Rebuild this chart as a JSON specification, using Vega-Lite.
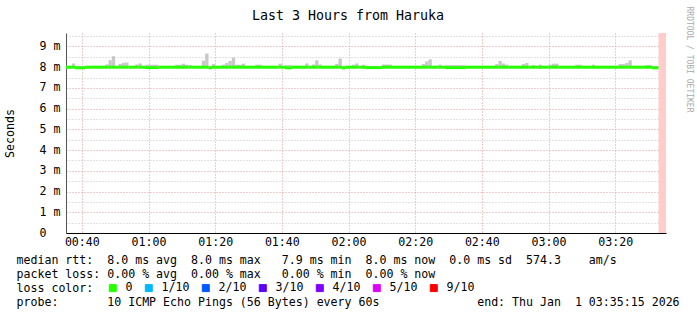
{
  "$schema": "https://vega.github.io/schema/vega-lite/v6.json",
  "width": 600,
  "height": 200,
  "autosize": {"type": "none"},
  "padding": {"left": 66, "top": 33, "right": 31, "bottom": 82},
  "background": "white",
  "title": {"text": "Last 3 Hours from Haruka", "font": "DejaVu Sans Mono", "fontSize": 13.3, "fontWeight": "normal", "color": "#000000", "anchor": "middle", "frame": "group", "baseline": "alphabetic", "offset": -27.6, "dx": -18},
  "datasets": {
    "unknown": [{"start": "2026-01-01T03:33:00Z", "end": "2026-01-01T03:35:15Z"}],
    "smoke": [
      {"start": "2026-01-01T00:35:15Z", "end": "2026-01-01T00:37:00Z", "lo": 7.95, "hi": 8.06, "med": 8.0, "loss": "0"},
      {"start": "2026-01-01T00:37:00Z", "end": "2026-01-01T00:38:00Z", "lo": 7.95, "hi": 8.18, "med": 8.0, "loss": "0"},
      {"start": "2026-01-01T00:38:00Z", "end": "2026-01-01T00:41:00Z", "lo": 7.92, "hi": 8.06, "med": 7.97, "loss": "0"},
      {"start": "2026-01-01T00:41:00Z", "end": "2026-01-01T00:47:00Z", "lo": 7.95, "hi": 8.06, "med": 8.0, "loss": "0"},
      {"start": "2026-01-01T00:47:00Z", "end": "2026-01-01T00:48:00Z", "lo": 7.95, "hi": 8.13, "med": 8.0, "loss": "0"},
      {"start": "2026-01-01T00:48:00Z", "end": "2026-01-01T00:49:00Z", "lo": 7.95, "hi": 8.34, "med": 8.0, "loss": "0"},
      {"start": "2026-01-01T00:49:00Z", "end": "2026-01-01T00:50:00Z", "lo": 7.95, "hi": 8.53, "med": 8.0, "loss": "0"},
      {"start": "2026-01-01T00:50:00Z", "end": "2026-01-01T00:51:00Z", "lo": 7.95, "hi": 8.06, "med": 8.0, "loss": "0"},
      {"start": "2026-01-01T00:51:00Z", "end": "2026-01-01T00:52:00Z", "lo": 7.95, "hi": 8.16, "med": 8.0, "loss": "0"},
      {"start": "2026-01-01T00:52:00Z", "end": "2026-01-01T00:53:00Z", "lo": 7.95, "hi": 8.21, "med": 8.0, "loss": "0"},
      {"start": "2026-01-01T00:53:00Z", "end": "2026-01-01T00:54:00Z", "lo": 7.95, "hi": 8.23, "med": 8.0, "loss": "0"},
      {"start": "2026-01-01T00:54:00Z", "end": "2026-01-01T00:56:00Z", "lo": 7.95, "hi": 8.06, "med": 8.0, "loss": "0"},
      {"start": "2026-01-01T00:56:00Z", "end": "2026-01-01T00:57:00Z", "lo": 7.95, "hi": 8.13, "med": 8.0, "loss": "0"},
      {"start": "2026-01-01T00:57:00Z", "end": "2026-01-01T00:58:00Z", "lo": 7.95, "hi": 8.18, "med": 8.0, "loss": "0"},
      {"start": "2026-01-01T00:58:00Z", "end": "2026-01-01T00:59:00Z", "lo": 7.95, "hi": 8.06, "med": 8.0, "loss": "0"},
      {"start": "2026-01-01T00:59:00Z", "end": "2026-01-01T01:03:00Z", "lo": 7.93, "hi": 8.12, "med": 7.98, "loss": "0"},
      {"start": "2026-01-01T01:03:00Z", "end": "2026-01-01T01:08:00Z", "lo": 7.95, "hi": 8.06, "med": 8.0, "loss": "0"},
      {"start": "2026-01-01T01:08:00Z", "end": "2026-01-01T01:10:00Z", "lo": 7.95, "hi": 8.12, "med": 8.0, "loss": "0"},
      {"start": "2026-01-01T01:10:00Z", "end": "2026-01-01T01:11:00Z", "lo": 7.93, "hi": 8.17, "med": 8.0, "loss": "0"},
      {"start": "2026-01-01T01:11:00Z", "end": "2026-01-01T01:12:00Z", "lo": 7.95, "hi": 8.12, "med": 8.0, "loss": "0"},
      {"start": "2026-01-01T01:12:00Z", "end": "2026-01-01T01:13:00Z", "lo": 7.95, "hi": 8.1, "med": 8.0, "loss": "0"},
      {"start": "2026-01-01T01:13:00Z", "end": "2026-01-01T01:16:00Z", "lo": 7.95, "hi": 8.06, "med": 8.0, "loss": "0"},
      {"start": "2026-01-01T01:16:00Z", "end": "2026-01-01T01:17:00Z", "lo": 7.95, "hi": 8.32, "med": 8.0, "loss": "0"},
      {"start": "2026-01-01T01:17:00Z", "end": "2026-01-01T01:18:00Z", "lo": 7.95, "hi": 8.66, "med": 8.0, "loss": "0"},
      {"start": "2026-01-01T01:18:00Z", "end": "2026-01-01T01:19:00Z", "lo": 7.92, "hi": 8.06, "med": 7.97, "loss": "0"},
      {"start": "2026-01-01T01:19:00Z", "end": "2026-01-01T01:20:00Z", "lo": 7.95, "hi": 8.15, "med": 8.0, "loss": "0"},
      {"start": "2026-01-01T01:20:00Z", "end": "2026-01-01T01:22:00Z", "lo": 7.95, "hi": 8.06, "med": 8.0, "loss": "0"},
      {"start": "2026-01-01T01:22:00Z", "end": "2026-01-01T01:23:00Z", "lo": 7.95, "hi": 8.12, "med": 8.0, "loss": "0"},
      {"start": "2026-01-01T01:23:00Z", "end": "2026-01-01T01:24:00Z", "lo": 7.93, "hi": 8.2, "med": 8.0, "loss": "0"},
      {"start": "2026-01-01T01:24:00Z", "end": "2026-01-01T01:25:00Z", "lo": 7.95, "hi": 8.3, "med": 8.0, "loss": "0"},
      {"start": "2026-01-01T01:25:00Z", "end": "2026-01-01T01:26:00Z", "lo": 7.95, "hi": 8.46, "med": 8.0, "loss": "0"},
      {"start": "2026-01-01T01:26:00Z", "end": "2026-01-01T01:28:00Z", "lo": 7.95, "hi": 8.12, "med": 8.0, "loss": "0"},
      {"start": "2026-01-01T01:28:00Z", "end": "2026-01-01T01:29:00Z", "lo": 7.95, "hi": 8.17, "med": 8.0, "loss": "0"},
      {"start": "2026-01-01T01:29:00Z", "end": "2026-01-01T01:32:00Z", "lo": 7.95, "hi": 8.06, "med": 8.0, "loss": "0"},
      {"start": "2026-01-01T01:32:00Z", "end": "2026-01-01T01:34:00Z", "lo": 7.95, "hi": 8.12, "med": 8.0, "loss": "0"},
      {"start": "2026-01-01T01:34:00Z", "end": "2026-01-01T01:39:00Z", "lo": 7.95, "hi": 8.06, "med": 8.0, "loss": "0"},
      {"start": "2026-01-01T01:39:00Z", "end": "2026-01-01T01:40:00Z", "lo": 7.95, "hi": 8.17, "med": 8.0, "loss": "0"},
      {"start": "2026-01-01T01:40:00Z", "end": "2026-01-01T01:41:00Z", "lo": 7.95, "hi": 8.06, "med": 8.0, "loss": "0"},
      {"start": "2026-01-01T01:41:00Z", "end": "2026-01-01T01:43:00Z", "lo": 7.92, "hi": 8.1, "med": 7.97, "loss": "0"},
      {"start": "2026-01-01T01:43:00Z", "end": "2026-01-01T01:47:00Z", "lo": 7.95, "hi": 8.06, "med": 8.0, "loss": "0"},
      {"start": "2026-01-01T01:47:00Z", "end": "2026-01-01T01:48:00Z", "lo": 7.95, "hi": 8.18, "med": 8.0, "loss": "0"},
      {"start": "2026-01-01T01:48:00Z", "end": "2026-01-01T01:49:00Z", "lo": 7.95, "hi": 8.06, "med": 8.0, "loss": "0"},
      {"start": "2026-01-01T01:49:00Z", "end": "2026-01-01T01:50:00Z", "lo": 7.95, "hi": 8.13, "med": 8.0, "loss": "0"},
      {"start": "2026-01-01T01:50:00Z", "end": "2026-01-01T01:51:00Z", "lo": 7.95, "hi": 8.33, "med": 8.0, "loss": "0"},
      {"start": "2026-01-01T01:51:00Z", "end": "2026-01-01T01:52:00Z", "lo": 7.95, "hi": 8.13, "med": 8.0, "loss": "0"},
      {"start": "2026-01-01T01:52:00Z", "end": "2026-01-01T01:56:00Z", "lo": 7.95, "hi": 8.06, "med": 8.0, "loss": "0"},
      {"start": "2026-01-01T01:56:00Z", "end": "2026-01-01T01:57:00Z", "lo": 7.95, "hi": 8.16, "med": 8.0, "loss": "0"},
      {"start": "2026-01-01T01:57:00Z", "end": "2026-01-01T01:58:00Z", "lo": 7.95, "hi": 8.42, "med": 8.0, "loss": "0"},
      {"start": "2026-01-01T01:58:00Z", "end": "2026-01-01T01:59:00Z", "lo": 7.9, "hi": 8.06, "med": 7.97, "loss": "0"},
      {"start": "2026-01-01T01:59:00Z", "end": "2026-01-01T02:01:00Z", "lo": 7.95, "hi": 8.06, "med": 8.0, "loss": "0"},
      {"start": "2026-01-01T02:01:00Z", "end": "2026-01-01T02:02:00Z", "lo": 7.95, "hi": 8.12, "med": 8.0, "loss": "0"},
      {"start": "2026-01-01T02:02:00Z", "end": "2026-01-01T02:03:00Z", "lo": 7.95, "hi": 8.18, "med": 8.0, "loss": "0"},
      {"start": "2026-01-01T02:03:00Z", "end": "2026-01-01T02:04:00Z", "lo": 7.95, "hi": 8.06, "med": 8.0, "loss": "0"},
      {"start": "2026-01-01T02:04:00Z", "end": "2026-01-01T02:05:00Z", "lo": 7.95, "hi": 8.12, "med": 8.0, "loss": "0"},
      {"start": "2026-01-01T02:05:00Z", "end": "2026-01-01T02:10:00Z", "lo": 7.93, "hi": 8.06, "med": 7.98, "loss": "0"},
      {"start": "2026-01-01T02:10:00Z", "end": "2026-01-01T02:13:00Z", "lo": 7.95, "hi": 8.13, "med": 8.0, "loss": "0"},
      {"start": "2026-01-01T02:13:00Z", "end": "2026-01-01T02:22:00Z", "lo": 7.95, "hi": 8.06, "med": 8.0, "loss": "0"},
      {"start": "2026-01-01T02:22:00Z", "end": "2026-01-01T02:23:00Z", "lo": 7.95, "hi": 8.15, "med": 8.0, "loss": "0"},
      {"start": "2026-01-01T02:23:00Z", "end": "2026-01-01T02:24:00Z", "lo": 7.95, "hi": 8.28, "med": 8.0, "loss": "0"},
      {"start": "2026-01-01T02:24:00Z", "end": "2026-01-01T02:25:00Z", "lo": 7.95, "hi": 8.38, "med": 8.0, "loss": "0"},
      {"start": "2026-01-01T02:25:00Z", "end": "2026-01-01T02:27:00Z", "lo": 7.95, "hi": 8.06, "med": 8.0, "loss": "0"},
      {"start": "2026-01-01T02:27:00Z", "end": "2026-01-01T02:28:00Z", "lo": 7.95, "hi": 8.12, "med": 8.0, "loss": "0"},
      {"start": "2026-01-01T02:28:00Z", "end": "2026-01-01T02:29:00Z", "lo": 7.95, "hi": 8.06, "med": 8.0, "loss": "0"},
      {"start": "2026-01-01T02:29:00Z", "end": "2026-01-01T02:35:00Z", "lo": 7.93, "hi": 8.1, "med": 7.98, "loss": "0"},
      {"start": "2026-01-01T02:35:00Z", "end": "2026-01-01T02:44:00Z", "lo": 7.95, "hi": 8.06, "med": 8.0, "loss": "0"},
      {"start": "2026-01-01T02:44:00Z", "end": "2026-01-01T02:45:00Z", "lo": 7.95, "hi": 8.15, "med": 8.0, "loss": "0"},
      {"start": "2026-01-01T02:45:00Z", "end": "2026-01-01T02:46:00Z", "lo": 7.95, "hi": 8.3, "med": 8.0, "loss": "0"},
      {"start": "2026-01-01T02:46:00Z", "end": "2026-01-01T02:47:00Z", "lo": 7.95, "hi": 8.18, "med": 8.0, "loss": "0"},
      {"start": "2026-01-01T02:47:00Z", "end": "2026-01-01T02:48:00Z", "lo": 7.95, "hi": 8.12, "med": 8.0, "loss": "0"},
      {"start": "2026-01-01T02:48:00Z", "end": "2026-01-01T02:52:00Z", "lo": 7.95, "hi": 8.06, "med": 8.0, "loss": "0"},
      {"start": "2026-01-01T02:52:00Z", "end": "2026-01-01T02:53:00Z", "lo": 7.95, "hi": 8.15, "med": 8.0, "loss": "0"},
      {"start": "2026-01-01T02:53:00Z", "end": "2026-01-01T02:54:00Z", "lo": 7.95, "hi": 8.2, "med": 8.0, "loss": "0"},
      {"start": "2026-01-01T02:54:00Z", "end": "2026-01-01T02:55:00Z", "lo": 7.95, "hi": 8.06, "med": 8.0, "loss": "0"},
      {"start": "2026-01-01T02:55:00Z", "end": "2026-01-01T02:56:00Z", "lo": 7.95, "hi": 8.1, "med": 8.0, "loss": "0"},
      {"start": "2026-01-01T02:56:00Z", "end": "2026-01-01T02:57:00Z", "lo": 7.95, "hi": 8.06, "med": 8.0, "loss": "0"},
      {"start": "2026-01-01T02:57:00Z", "end": "2026-01-01T02:58:00Z", "lo": 7.93, "hi": 8.12, "med": 8.0, "loss": "0"},
      {"start": "2026-01-01T02:58:00Z", "end": "2026-01-01T03:00:00Z", "lo": 7.95, "hi": 8.06, "med": 8.0, "loss": "0"},
      {"start": "2026-01-01T03:00:00Z", "end": "2026-01-01T03:01:00Z", "lo": 7.95, "hi": 8.12, "med": 8.0, "loss": "0"},
      {"start": "2026-01-01T03:01:00Z", "end": "2026-01-01T03:03:00Z", "lo": 7.95, "hi": 8.17, "med": 8.0, "loss": "0"},
      {"start": "2026-01-01T03:03:00Z", "end": "2026-01-01T03:08:00Z", "lo": 7.95, "hi": 8.06, "med": 8.0, "loss": "0"},
      {"start": "2026-01-01T03:08:00Z", "end": "2026-01-01T03:10:00Z", "lo": 7.95, "hi": 8.12, "med": 8.0, "loss": "0"},
      {"start": "2026-01-01T03:10:00Z", "end": "2026-01-01T03:13:00Z", "lo": 7.95, "hi": 8.06, "med": 8.0, "loss": "0"},
      {"start": "2026-01-01T03:13:00Z", "end": "2026-01-01T03:14:00Z", "lo": 7.95, "hi": 8.12, "med": 8.0, "loss": "0"},
      {"start": "2026-01-01T03:14:00Z", "end": "2026-01-01T03:21:00Z", "lo": 7.95, "hi": 8.06, "med": 8.0, "loss": "0"},
      {"start": "2026-01-01T03:21:00Z", "end": "2026-01-01T03:23:00Z", "lo": 7.95, "hi": 8.15, "med": 8.0, "loss": "0"},
      {"start": "2026-01-01T03:23:00Z", "end": "2026-01-01T03:24:00Z", "lo": 7.95, "hi": 8.2, "med": 8.0, "loss": "0"},
      {"start": "2026-01-01T03:24:00Z", "end": "2026-01-01T03:25:00Z", "lo": 7.95, "hi": 8.33, "med": 8.0, "loss": "0"},
      {"start": "2026-01-01T03:25:00Z", "end": "2026-01-01T03:29:00Z", "lo": 7.95, "hi": 8.06, "med": 8.0, "loss": "0"},
      {"start": "2026-01-01T03:29:00Z", "end": "2026-01-01T03:31:00Z", "lo": 7.95, "hi": 8.1, "med": 8.0, "loss": "0"},
      {"start": "2026-01-01T03:31:00Z", "end": "2026-01-01T03:33:00Z", "lo": 7.92, "hi": 8.06, "med": 7.97, "loss": "0"}
    ]
  },
  "layer": [
    {
      "data": {"name": "unknown"},
      "mark": {"type": "rect", "color": "#ffcccc"},
      "encoding": {
        "x": {
          "field": "start", "type": "temporal",
          "scale": {"domain": [1767227715000, 1767238515000]},
          "axis": {
            "values": [1767228000000, 1767228300000, 1767228600000, 1767228900000, 1767229200000, 1767229500000, 1767229800000, 1767230100000, 1767230400000, 1767230700000, 1767231000000, 1767231300000, 1767231600000, 1767231900000, 1767232200000, 1767232500000, 1767232800000, 1767233100000, 1767233400000, 1767233700000, 1767234000000, 1767234300000, 1767234600000, 1767234900000, 1767235200000, 1767235500000, 1767235800000, 1767236100000, 1767236400000, 1767236700000, 1767237000000, 1767237300000, 1767237600000, 1767237900000, 1767238200000, 1767238500000],
            "labelExpr": "utcminutes(datum.value) % 20 === 0 ? utcFormat(datum.value, '%H:%M') : ''",
            "labelFont": "DejaVu Sans Mono", "labelFontSize": 11.6, "labelColor": "#000000",
            "labelPadding": 3, "labelFlush": false, "labelOverlap": false, "labelBound": false,
            "ticks": false,
            "domainColor": "#000000", "domainWidth": 1,
            "grid": true,
            "gridColor": {"condition": {"test": "utcminutes(datum.value) % 20 === 0", "value": "#e59a9a"}, "value": "#c4c4c4"},
            "gridDash": [1, 2],
            "gridWidth": 1,
            "title": [
              "median\u00a0rtt:\u00a0\u00a08.0\u00a0ms\u00a0avg\u00a0\u00a08.0\u00a0ms\u00a0max\u00a0\u00a0\u00a07.9\u00a0ms\u00a0min\u00a0\u00a08.0\u00a0ms\u00a0now\u00a0\u00a00.0\u00a0ms\u00a0sd\u00a0\u00a0574.3\u00a0\u00a0\u00a0\u00a0am/s",
              "packet\u00a0loss:\u00a00.00\u00a0%\u00a0avg\u00a0\u00a00.00\u00a0%\u00a0max\u00a0\u00a0\u00a00.00\u00a0%\u00a0min\u00a0\u00a00.00\u00a0%\u00a0now",
              "loss\u00a0color:",
              "probe:\u00a0\u00a0\u00a0\u00a0\u00a0\u00a0\u00a010\u00a0ICMP\u00a0Echo\u00a0Pings\u00a0(56\u00a0Bytes)\u00a0every\u00a060s\u00a0\u00a0\u00a0\u00a0\u00a0\u00a0\u00a0\u00a0\u00a0\u00a0\u00a0\u00a0\u00a0\u00a0end:\u00a0Thu\u00a0Jan\u00a0\u00a01\u00a003:35:15\u00a02026"
            ],
            "titleFont": "DejaVu Sans Mono", "titleFontSize": 11.6, "titleFontWeight": "normal", "titleColor": "#000000",
            "titleAnchor": "start", "titleAlign": "left", "titleBaseline": "alphabetic",
            "titleX": -50, "titleY": 30, "titleLineHeight": 14
          }
        },
        "x2": {"field": "end"}
      }
    },
    {
      "data": {"name": "smoke"},
      "mark": {"type": "rect", "color": "#c8c8c8"},
      "encoding": {
        "x": {"field": "start", "type": "temporal"},
        "x2": {"field": "end"},
        "y": {
          "field": "lo", "type": "quantitative",
          "scale": {"domain": [0, 9.65], "nice": false, "zero": false},
          "axis": {
            "values": [0, 0.5, 1, 1.5, 2, 2.5, 3, 3.5, 4, 4.5, 5, 5.5, 6, 6.5, 7, 7.5, 8, 8.5, 9, 9.5],
            "labelExpr": "datum.value === 0 ? '0\u00a0\u00a0\u200b' : (datum.value % 1 === 0 ? datum.value + '\u00a0m' : '')",
            "labelFont": "DejaVu Sans Mono", "labelFontSize": 11.6, "labelColor": "#000000",
            "labelPadding": 6, "labelOverlap": false, "labelBound": false, "labelFlush": false,
            "ticks": false,
            "domainColor": "#555555", "domainWidth": 1,
            "grid": true,
            "gridColor": {"condition": {"test": "datum.value % 1 === 0", "value": "#e59a9a"}, "value": "#c4c4c4"},
            "gridDash": [1, 2],
            "gridWidth": 1,
            "title": "Seconds",
            "titleFont": "DejaVu Sans Mono", "titleFontSize": 11.6, "titleFontWeight": "normal", "titleColor": "#000000",
            "titleAngle": -90, "titleAlign": "center", "titleBaseline": "middle",
            "titleX": -56, "titleY": 100
          }
        },
        "y2": {"field": "hi"}
      }
    },
    {
      "data": {"name": "smoke"},
      "mark": {"type": "rule", "strokeWidth": 3, "strokeCap": "butt"},
      "encoding": {
        "x": {"field": "start", "type": "temporal"},
        "x2": {"field": "end"},
        "y": {
          "field": "med", "type": "quantitative",
          "axis": {
            "orient": "right", "labels": false, "ticks": false, "domain": false, "grid": false,
            "title": "RRDTOOL / TOBI OETIKER",
            "titleFont": "DejaVu Sans Mono", "titleFontSize": 8, "titleFontWeight": "normal", "titleColor": "#aaaaaa",
            "titleAngle": 90, "titleAlign": "left", "titleBaseline": "middle",
            "titleX": 22, "titleY": -27
          }
        },
        "stroke": {
          "field": "loss", "type": "nominal",
          "scale": {"domain": ["0", "1/10", "2/10", "3/10", "4/10", "5/10", "9/10"], "range": ["#26ff00", "#00b8ff", "#0059ff", "#5e00ff", "#7e00ff", "#dd00ff", "#ff0000"]},
          "legend": null
        },
        "fill": {
          "field": "loss", "type": "nominal",
          "scale": {"domain": ["0", "1/10", "2/10", "3/10", "4/10", "5/10", "9/10"], "range": ["#26ff00", "#00b8ff", "#0059ff", "#5e00ff", "#7e00ff", "#dd00ff", "#ff0000"]},
          "legend": {
            "orient": "none", "legendX": 41, "legendY": 249, "direction": "horizontal",
            "title": null,
            "labelFont": "DejaVu Sans Mono", "labelFontSize": 11.6, "labelColor": "#000000",
            "labelOffset": 7, "columnPadding": 10,
            "symbolType": "square", "symbolSize": 49, "symbolStrokeColor": "#000000", "symbolStrokeWidth": 1, "symbolOpacity": 1,
            "padding": 0
          }
        }
      }
    }
  ],
  "resolve": {"axis": {"y": "independent"}},
  "config": {"view": {"stroke": null}, "font": "DejaVu Sans Mono"}
}
